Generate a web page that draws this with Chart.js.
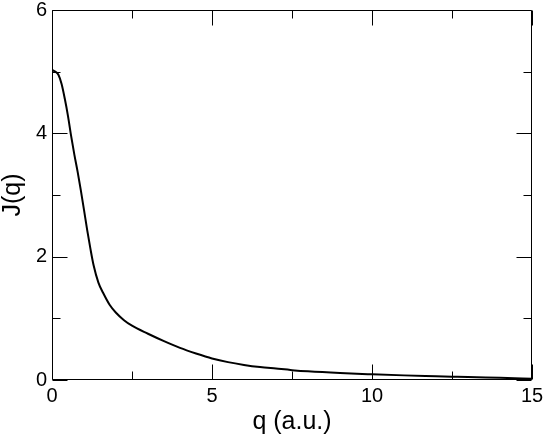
<!DOCTYPE html>
<html>
<head>
<meta charset="utf-8">
<script src="https://cdn.jsdelivr.net/npm/chart.js@4/dist/chart.umd.min.js"></script>
<style>
  html, body { margin: 0; padding: 0; background: #fff; }
  #wrap { width: 545px; height: 438px; }
</style>
</head>
<body>
<div id="wrap"><canvas id="myChart" width="545" height="438"></canvas></div>
<script>
// J(q) curve
const qValues = [0, 0.1, 0.2, 0.3, 0.4, 0.5, 0.6, 0.7, 0.8, 0.9, 1.0, 1.1, 1.2, 1.3, 1.45, 1.6, 1.8, 2.0, 2.25, 2.5,
  3.0, 3.5, 4.0, 4.5, 5.0, 5.5, 6.0, 6.5, 7.0, 7.5, 8.0, 9.0, 10.0, 11.0, 12.0, 12.5, 13.0, 14.0, 15.0];
const jValues = [5.03, 5.00, 4.95, 4.80, 4.56, 4.28, 3.95, 3.65, 3.38, 3.08, 2.76, 2.43, 2.13, 1.86, 1.58, 1.41, 1.22, 1.09, 0.97, 0.88,
  0.75, 0.63, 0.52, 0.43, 0.35, 0.29, 0.245, 0.21, 0.185, 0.16, 0.14, 0.112, 0.092, 0.075, 0.061, 0.054, 0.047, 0.035, 0.022];

const xMajorTicks = [0, 5, 10, 15];
const xMinorTicks = [2.5, 7.5, 12.5];
const yMajorTicks = [0, 2, 4, 6];
const yMinorTicks = [1, 3, 5];

const xTitle = 'q (a.u.)';
const yTitle = 'J(q)';

const FONT = 'Liberation Sans, Arial, Helvetica, sans-serif';

// frame with inward ticks on all four sides, like xmgrace
const frameTicks = {
  id: 'frameTicks',
  afterDatasetsDraw(chart) {
    const { ctx, chartArea: a, scales: { x, y } } = chart;
    const L = Math.round(a.left) + 0.5, R = Math.round(a.right) - 0.5;
    const T = Math.round(a.top) + 0.5, B = Math.round(a.bottom) - 0.5;
    ctx.save();
    ctx.strokeStyle = '#000';
    ctx.lineWidth = 1;
    ctx.beginPath();
    ctx.rect(L, T, R - L, B - T);
    function xTick(v, len) {
      const px = Math.round(x.getPixelForValue(v)) + 0.5;
      ctx.moveTo(px, B); ctx.lineTo(px, B - len);
      ctx.moveTo(px, T); ctx.lineTo(px, T + len);
    }
    function yTick(v, len) {
      const py = Math.round(y.getPixelForValue(v)) + 0.5;
      ctx.moveTo(L, py); ctx.lineTo(L + len, py);
      ctx.moveTo(R, py); ctx.lineTo(R - len, py);
    }
    xMajorTicks.forEach(v => xTick(v, 15));
    xMinorTicks.forEach(v => xTick(v, 8));
    yMajorTicks.forEach(v => yTick(v, 15));
    yMinorTicks.forEach(v => yTick(v, 8));
    ctx.stroke();
    ctx.restore();
  }
};

const ctx = document.getElementById('myChart').getContext('2d');

new Chart(ctx, {
  type: 'line',
  data: {
    datasets: [{
      data: qValues.map((q, i) => ({ x: q, y: jValues[i] })),
      borderColor: '#000',
      borderWidth: 2,
      pointRadius: 0,
      fill: false,
      cubicInterpolationMode: 'monotone'
    }]
  },
  options: {
    responsive: false,
    animation: false,
    devicePixelRatio: 1,
    layout: { padding: { top: 10, right: 13, left: 0, bottom: 0 } },
    plugins: {
      legend: { display: false },
      tooltip: { enabled: false }
    },
    scales: {
      x: {
        type: 'linear',
        min: 0,
        max: 15,
        afterFit: s => { s.height = 58; s.paddingLeft = 0; s.paddingRight = 0; },
        afterBuildTicks: s => { s.ticks = xMajorTicks.map(v => ({ value: v })); },
        grid: { display: false, drawTicks: false },
        border: { display: false },
        ticks: {
          color: '#000',
          padding: 6,
          maxRotation: 0,
          autoSkip: false,
          font: { family: FONT, size: 20, lineHeight: 1 }
        },
        title: {
          display: true,
          text: xTitle,
          color: '#000',
          padding: { top: 0, bottom: 3 },
          font: { family: FONT, size: 25, lineHeight: 1 }
        }
      },
      y: {
        type: 'linear',
        min: 0,
        max: 6,
        afterFit: s => { s.width = 52; s.paddingTop = 0; s.paddingBottom = 0; },
        afterBuildTicks: s => { s.ticks = yMajorTicks.map(v => ({ value: v })); },
        grid: { display: false, drawTicks: false },
        border: { display: false },
        ticks: {
          color: '#000',
          padding: 5,
          autoSkip: false,
          font: { family: FONT, size: 20, lineHeight: 1 }
        },
        title: {
          display: true,
          text: yTitle,
          color: '#000',
          padding: { top: 1, bottom: 0 },
          font: { family: FONT, size: 25, lineHeight: 1 }
        }
      }
    }
  },
  plugins: [frameTicks]
});
</script>
</body>
</html>
